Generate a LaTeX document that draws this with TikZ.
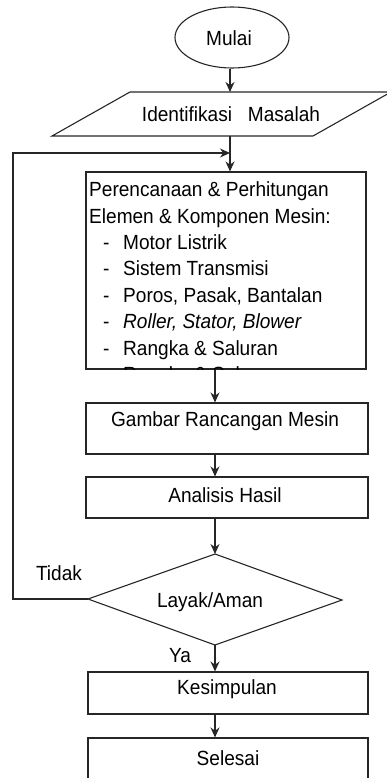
\documentclass[tikz,border=0pt]{standalone}
\usepackage{fontspec}
\setmainfont{Liberation Sans}[FakeStretch=0.93]
\usetikzlibrary{arrows.meta,shapes.geometric}
\begin{document}
\begin{tikzpicture}[x=1pt,y=-1pt,
  ln/.style={line width=1.1pt,draw=black!85},
  arr/.style={ln,-{Stealth[length=10pt,width=9pt]}},
  box/.style={ln,rectangle,inner sep=0pt},
  txt/.style={font=\fontsize{20.5}{24}\selectfont,inner sep=0pt},
  itm/.style={txt,anchor=base west}]
\useasboundingbox (0,0) rectangle (386,778);
% start
\node[ln,ellipse,minimum width=114pt,minimum height=61pt,inner sep=0pt] (mulai) at (232,37.5) {};
\node[txt] (mulait) at (229,38) {Mulai};
% parallelogram
\coordinate (p1) at (130,92);
\coordinate (p2) at (391,92);
\coordinate (p3) at (313,136);
\coordinate (p4) at (52,136);
\draw[ln] (p1) -- (p2) -- (p3) -- (p4) -- cycle;
\node[txt] (ident) at (231,114) {Identifikasi\ \ \ Masalah};
\coordinate (identtop) at (230,92);
\coordinate (identbot) at (230,136);
% box1
\node[box,minimum width=280pt,minimum height=197pt] (b1) at (226,270.5) {};
\begin{scope}
\clip (86,172) rectangle (366,369);
\node[itm] (l1) at (89,196) {Perencanaan \& Perhitungan};
\node[itm] (l2) at (89,223) {Elemen \& Komponen Mesin:};
\foreach \y/\t [count=\i] in {249/{Motor Listrik},275.5/{Sistem\ Transmisi},302/{Poros, Pasak,\ Bantalan},328/{\itshape Roller, Stator, Blower},355/{Rangka \& Saluran},381/{Rangka \& Saluran}}{
  \node[itm] (d\i) at (103,\y) {-};
  \node[itm] (t\i) at (123,\y) {\t};
}
\end{scope}
% box2
\node[box,minimum width=282pt,minimum height=51pt] (b2) at (227,428.5) {};
\node[txt] (b2t) at (225,421) {Gambar Rancangan Mesin};
% box3
\node[box,minimum width=282pt,minimum height=41pt] (b3) at (227,497.5) {};
\node[txt] (b3t) at (225,495) {Analisis Hasil};
% diamond
\coordinate (dt) at (215,554);
\coordinate (dr) at (342,600);
\coordinate (db) at (215,645);
\coordinate (dl) at (88,599);
\draw[ln] (dt) -- (dr) -- (db) -- (dl) -- cycle;
\node[txt] (dec) at (210,602) {Layak/Aman};
\node[txt] (tidak) at (59,573) {Tidak};
\node[txt] (ya) at (180,656) {Ya};
% box4
\node[box,minimum width=280pt,minimum height=42pt] (b4) at (228,693) {};
\node[txt] (b4t) at (227,689) {Kesimpulan};
% box5
\node[box,minimum width=280pt,minimum height=62pt] (b5) at (228,769) {};
\node[txt] (b5t) at (228,758) {Selesai};
% connectors
\draw[arr] (mulai.south -| identtop) -- (identtop);
\draw[arr] (identbot) -- (identbot |- b1.north);
\coordinate (c1) at (13,599);
\coordinate (c2) at (13,153);
\coordinate (c3) at (230,153);
\draw[arr] (dl) -- (c1) -- (c2) -- (c3);
\draw[arr] (b1.south -| dt) -- (b2.north -| dt);
\draw[arr] (b2.south -| dt) -- (b3.north -| dt);
\draw[arr] (b3.south -| dt) -- (dt);
\draw[arr] (db) -- (b4.north -| db);
\draw[arr] (b4.south -| db) -- (b5.north -| db);
\end{tikzpicture}
\end{document}
